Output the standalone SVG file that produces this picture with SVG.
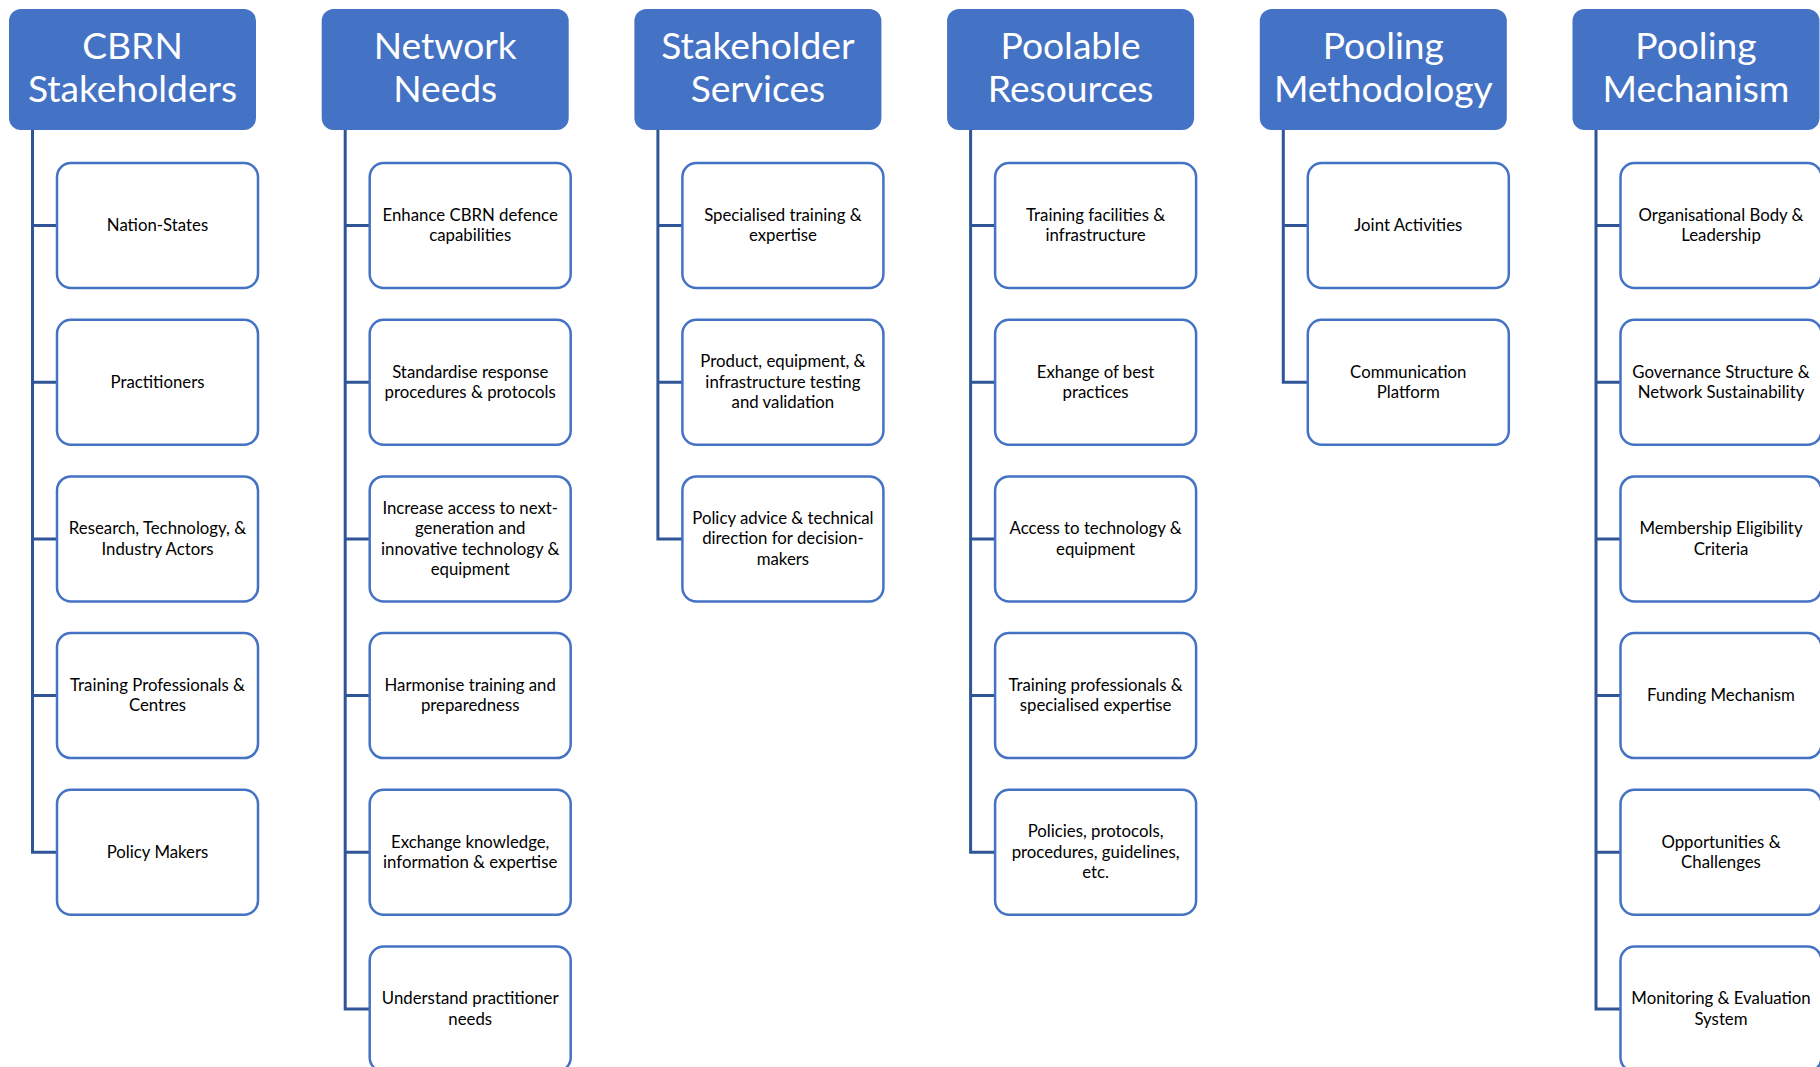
<svg xmlns="http://www.w3.org/2000/svg" width="1820" height="1067" viewBox="0 0 1820 1067">
  <style>
    .hdr rect { fill: #4472C4; }
    .hdr text { fill: #FFFFFF; font-family: Lato, "Liberation Sans", sans-serif; font-size: 37.2px; text-anchor: middle; }
    .box rect { fill: #FFFFFF; stroke: #4472C4; stroke-width: 2.5; }
    .box text { fill: #000000; font-family: Lato, "Liberation Sans", sans-serif; font-size: 16.8px; text-anchor: middle; }
    #connectors path { fill: none; stroke: #2F5597; stroke-width: 3; }
  </style>
  <rect width="1820" height="1067" fill="#FFFFFF"/>

  <!-- tree lines: trunk from each header down to its last child, plus one branch per child -->
  <g id="connectors">
    <path d="M32.5,130 V852.3 H57 M32.5,225.5 H57 M32.5,382.2 H57 M32.5,538.9 H57 M32.5,695.6 H57"/>
    <path d="M345.2,130 V1009 H369.7 M345.2,225.5 H369.7 M345.2,382.2 H369.7 M345.2,538.9 H369.7 M345.2,695.6 H369.7 M345.2,852.3 H369.7"/>
    <path d="M657.9,130 V538.9 H682.4 M657.9,225.5 H682.4 M657.9,382.2 H682.4"/>
    <path d="M970.6,130 V852.3 H995.1 M970.6,225.5 H995.1 M970.6,382.2 H995.1 M970.6,538.9 H995.1 M970.6,695.6 H995.1"/>
    <path d="M1283.3,130 V382.2 H1307.8 M1283.3,225.5 H1307.8"/>
    <path d="M1596,130 V1009 H1620.5 M1596,225.5 H1620.5 M1596,382.2 H1620.5 M1596,538.9 H1620.5 M1596,695.6 H1620.5 M1596,852.3 H1620.5"/>
  </g>

  <!-- column 1 -->
  <g id="hdr-cbrn-stakeholders" class="hdr" transform="translate(9,9)">
    <rect width="247" height="121" rx="12"/>
    <text x="123.5" y="50">CBRN</text><text x="123.5" y="93">Stakeholders</text>
  </g>
  <g id="n-nation-states" class="box" transform="translate(57,163)">
    <rect width="201" height="125" rx="14"/>
    <text x="100.5" y="68">Nation-States</text>
  </g>
  <g id="n-practitioners" class="box" transform="translate(57,319.7)">
    <rect width="201" height="125" rx="14"/>
    <text x="100.5" y="68">Practitioners</text>
  </g>
  <g id="n-research-industry" class="box" transform="translate(57,476.4)">
    <rect width="201" height="125" rx="14"/>
    <text x="100.5" y="57.85">Research, Technology, &amp;</text><text x="100.5" y="78.15">Industry Actors</text>
  </g>
  <g id="n-training-centres" class="box" transform="translate(57,633.1)">
    <rect width="201" height="125" rx="14"/>
    <text x="100.5" y="57.85">Training Professionals &amp;</text><text x="100.5" y="78.15">Centres</text>
  </g>
  <g id="n-policy-makers" class="box" transform="translate(57,789.8)">
    <rect width="201" height="125" rx="14"/>
    <text x="100.5" y="68">Policy Makers</text>
  </g>

  <!-- column 2 -->
  <g id="hdr-network-needs" class="hdr" transform="translate(321.7,9)">
    <rect width="247" height="121" rx="12"/>
    <text x="123.5" y="50">Network</text><text x="123.5" y="93">Needs</text>
  </g>
  <g id="n-enhance" class="box" transform="translate(369.7,163)">
    <rect width="201" height="125" rx="14"/>
    <text x="100.5" y="57.85">Enhance CBRN defence</text><text x="100.5" y="78.15">capabilities</text>
  </g>
  <g id="n-standardise" class="box" transform="translate(369.7,319.7)">
    <rect width="201" height="125" rx="14"/>
    <text x="100.5" y="57.85">Standardise response</text><text x="100.5" y="78.15">procedures &amp; protocols</text>
  </g>
  <g id="n-access-nextgen" class="box" transform="translate(369.7,476.4)">
    <rect width="201" height="125" rx="14"/>
    <text x="100.5" y="37.55">Increase access to next-</text><text x="100.5" y="57.85">generation and</text><text x="100.5" y="78.15">innovative technology &amp;</text><text x="100.5" y="98.45">equipment</text>
  </g>
  <g id="n-harmonise" class="box" transform="translate(369.7,633.1)">
    <rect width="201" height="125" rx="14"/>
    <text x="100.5" y="57.85">Harmonise training and</text><text x="100.5" y="78.15">preparedness</text>
  </g>
  <g id="n-exchange-knowledge" class="box" transform="translate(369.7,789.8)">
    <rect width="201" height="125" rx="14"/>
    <text x="100.5" y="57.85">Exchange knowledge,</text><text x="100.5" y="78.15">information &amp; expertise</text>
  </g>
  <g id="n-understand-needs" class="box" transform="translate(369.7,946.5)">
    <rect width="201" height="125" rx="14"/>
    <text x="100.5" y="57.85">Understand practitioner</text><text x="100.5" y="78.15">needs</text>
  </g>

  <!-- column 3 -->
  <g id="hdr-stakeholder-services" class="hdr" transform="translate(634.4,9)">
    <rect width="247" height="121" rx="12"/>
    <text x="123.5" y="50">Stakeholder</text><text x="123.5" y="93">Services</text>
  </g>
  <g id="n-specialised-training" class="box" transform="translate(682.4,163)">
    <rect width="201" height="125" rx="14"/>
    <text x="100.5" y="57.85">Specialised training &amp;</text><text x="100.5" y="78.15">expertise</text>
  </g>
  <g id="n-testing-validation" class="box" transform="translate(682.4,319.7)">
    <rect width="201" height="125" rx="14"/>
    <text x="100.5" y="47.7">Product, equipment, &amp;</text><text x="100.5" y="68">infrastructure testing</text><text x="100.5" y="88.3">and validation</text>
  </g>
  <g id="n-policy-advice" class="box" transform="translate(682.4,476.4)">
    <rect width="201" height="125" rx="14"/>
    <text x="100.5" y="47.7">Policy advice &amp; technical</text><text x="100.5" y="68">direction for decision-</text><text x="100.5" y="88.3">makers</text>
  </g>

  <!-- column 4 -->
  <g id="hdr-poolable-resources" class="hdr" transform="translate(947.1,9)">
    <rect width="247" height="121" rx="12"/>
    <text x="123.5" y="50">Poolable</text><text x="123.5" y="93">Resources</text>
  </g>
  <g id="n-training-facilities" class="box" transform="translate(995.1,163)">
    <rect width="201" height="125" rx="14"/>
    <text x="100.5" y="57.85">Training facilities &amp;</text><text x="100.5" y="78.15">infrastructure</text>
  </g>
  <g id="n-best-practices" class="box" transform="translate(995.1,319.7)">
    <rect width="201" height="125" rx="14"/>
    <text x="100.5" y="57.85">Exhange of best</text><text x="100.5" y="78.15">practices</text>
  </g>
  <g id="n-access-technology" class="box" transform="translate(995.1,476.4)">
    <rect width="201" height="125" rx="14"/>
    <text x="100.5" y="57.85">Access to technology &amp;</text><text x="100.5" y="78.15">equipment</text>
  </g>
  <g id="n-training-professionals" class="box" transform="translate(995.1,633.1)">
    <rect width="201" height="125" rx="14"/>
    <text x="100.5" y="57.85">Training professionals &amp;</text><text x="100.5" y="78.15">specialised expertise</text>
  </g>
  <g id="n-policies-protocols" class="box" transform="translate(995.1,789.8)">
    <rect width="201" height="125" rx="14"/>
    <text x="100.5" y="47.7">Policies, protocols,</text><text x="100.5" y="68">procedures, guidelines,</text><text x="100.5" y="88.3">etc.</text>
  </g>

  <!-- column 5 -->
  <g id="hdr-pooling-methodology" class="hdr" transform="translate(1259.8,9)">
    <rect width="247" height="121" rx="12"/>
    <text x="123.5" y="50">Pooling</text><text x="123.5" y="93">Methodology</text>
  </g>
  <g id="n-joint-activities" class="box" transform="translate(1307.8,163)">
    <rect width="201" height="125" rx="14"/>
    <text x="100.5" y="68">Joint Activities</text>
  </g>
  <g id="n-communication-platform" class="box" transform="translate(1307.8,319.7)">
    <rect width="201" height="125" rx="14"/>
    <text x="100.5" y="57.85">Communication</text><text x="100.5" y="78.15">Platform</text>
  </g>

  <!-- column 6 -->
  <g id="hdr-pooling-mechanism" class="hdr" transform="translate(1572.5,9)">
    <rect width="247" height="121" rx="12"/>
    <text x="123.5" y="50">Pooling</text><text x="123.5" y="93">Mechanism</text>
  </g>
  <g id="n-organisational-body" class="box" transform="translate(1620.5,163)">
    <rect width="201" height="125" rx="14"/>
    <text x="100.5" y="57.85">Organisational Body &amp;</text><text x="100.5" y="78.15">Leadership</text>
  </g>
  <g id="n-governance" class="box" transform="translate(1620.5,319.7)">
    <rect width="201" height="125" rx="14"/>
    <text x="100.5" y="57.85">Governance Structure &amp;</text><text x="100.5" y="78.15">Network Sustainability</text>
  </g>
  <g id="n-membership" class="box" transform="translate(1620.5,476.4)">
    <rect width="201" height="125" rx="14"/>
    <text x="100.5" y="57.85">Membership Eligibility</text><text x="100.5" y="78.15">Criteria</text>
  </g>
  <g id="n-funding" class="box" transform="translate(1620.5,633.1)">
    <rect width="201" height="125" rx="14"/>
    <text x="100.5" y="68">Funding Mechanism</text>
  </g>
  <g id="n-opportunities" class="box" transform="translate(1620.5,789.8)">
    <rect width="201" height="125" rx="14"/>
    <text x="100.5" y="57.85">Opportunities &amp;</text><text x="100.5" y="78.15">Challenges</text>
  </g>
  <g id="n-monitoring" class="box" transform="translate(1620.5,946.5)">
    <rect width="201" height="125" rx="14"/>
    <text x="100.5" y="57.85">Monitoring &amp; Evaluation</text><text x="100.5" y="78.15">System</text>
  </g>
</svg>
